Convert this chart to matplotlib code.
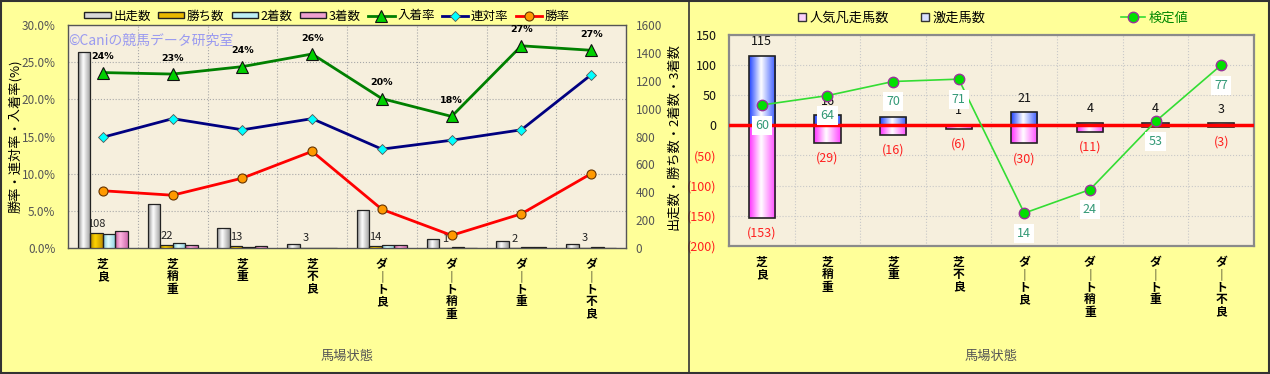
import matplotlib
matplotlib.use("Agg")
import matplotlib.pyplot as plt
import numpy as np
from matplotlib.colors import LinearSegmentedColormap
from matplotlib.lines import Line2D
from matplotlib.patches import Patch, Rectangle
from matplotlib.ticker import FixedLocator, FuncFormatter

plt.rcParams["font.family"] = ["Noto Sans CJK JP", "DejaVu Sans"]

categories = ["芝良", "芝稍重", "芝重", "芝不良", "ダート良", "ダート稍重", "ダート重", "ダート不良"]

# 左グラフ: 頭数 (右軸) と 率 (左軸, %)
runs = [1408, 315, 140, 28, 274, 64, 47, 31]
wins = [108, 22, 13, 3, 14, 1, 2, 3]
seconds = [102, 33, 9, 1, 22, 8, 5, 4]
thirds = [119, 20, 12, 2, 19, 2, 5, 1]
place_rate = [23.6, 23.4, 24.4, 26.1, 20.1, 17.7, 27.2, 26.6]
quinella_rate = [14.9, 17.4, 15.9, 17.4, 13.3, 14.5, 15.9, 23.3]
win_rate = [7.7, 7.1, 9.4, 13.0, 5.2, 1.7, 4.6, 10.0]

# 右グラフ: 激走馬数 / 人気凡走馬数 / 検定値
surge = [115, 16, 14, 1, 21, 4, 4, 3]
flop = [-153, -29, -16, -6, -30, -11, -3, -3]
test_value = [60, 64, 70, 71, 14, 24, 53, 77]

W, H = 1270, 374
BG = "#FFFF99"
PLOT_BG = "#F6EFDD"


def vertical(s):
    return "\n".join("｜" if c == "ー" else c for c in s)


def gradient_bars(ax, bars, stops, zorder=3):
    cmap = LinearSegmentedColormap.from_list("g", stops)
    grad = np.linspace(0, 1, 64).reshape(1, -1)
    for b in bars:
        x0, y0 = b.get_x(), b.get_y()
        w, h = b.get_width(), b.get_height()
        if h == 0:
            continue
        im = ax.imshow(grad, cmap=cmap, extent=[x0, x0 + w, y0, y0 + h],
                       aspect="auto", zorder=zorder, interpolation="bicubic")
        im.set_clip_path(b)


fig = plt.figure(figsize=(W / 100, H / 100), dpi=100, facecolor=BG)

x = np.arange(len(categories))
xt_labels = [vertical(c) for c in categories]

# =========================================================
# 左: 出走数・着順別頭数 + 勝率/連対率/入着率
# =========================================================
ax = fig.add_axes([68 / W, 1 - 248 / H, 558 / W, 223 / H])
ax.set_facecolor(PLOT_BG)
ax2 = ax.twinx()

bw = 0.18
series = [
    (runs, -1.5, [(0, "#8C8C8C"), (0.4, "#FFFFFF"), (1, "#9A9A9A")]),
    (wins, -0.5, [(0, "#B08400"), (0.4, "#FFD400"), (1, "#BF9000")]),
    (seconds, 0.5, [(0, "#7CC4D4"), (0.4, "#E4FFFF"), (1, "#8CCFE0")]),
    (thirds, 1.5, [(0, "#C85C9C"), (0.4, "#FFB6E2"), (1, "#D06CAE")]),
]
for vals, off, stops in series:
    bars = ax.bar(x + off * bw, vals, bw, facecolor="none", edgecolor="#222222",
                  linewidth=0.9, zorder=3.5)
    gradient_bars(ax, bars, stops, zorder=3)

for i, v in enumerate(wins):
    ax.annotate(str(v), (x[i] - 0.5 * bw, v), xytext=(0, 3), textcoords="offset points",
                ha="center", va="bottom", fontsize=8, color="#222222", zorder=2)

ax.set_xlim(-0.5, 7.5)
ax.set_ylim(0, 1600)
ax.set_yticks(np.arange(0, 1601, 200))
ax.yaxis.tick_right()
ax.yaxis.set_label_position("right")
ax.set_ylabel("出走数・勝ち数・2着数・3着数", fontsize=9.5, rotation=90)
ax.yaxis.set_label_coords(1.074, 0.5)
ax.yaxis.set_minor_locator(FixedLocator(np.linspace(0, 1600, 7)))
ax.xaxis.set_minor_locator(FixedLocator(np.arange(0.5, 7, 1)))
ax.grid(which="minor", color="#A8A8A8", linestyle=":", linewidth=0.8)
ax.tick_params(which="both", length=0)
ax.tick_params(axis="y", labelsize=8.5, labelcolor="#555555", pad=7)
ax.set_xticks(x)
ax.set_xticklabels(xt_labels, fontsize=8.5, fontweight="bold", linespacing=0.95, va="top")
ax.tick_params(axis="x", pad=7)
ax.set_xlabel("馬場状態", fontsize=9.5, color="#555555")
ax.xaxis.set_label_coords(0.5, -0.457)
for s in ax.spines.values():
    s.set_color("#555555")
    s.set_linewidth(1.0)

l1, = ax2.plot(x, place_rate, color="#008000", lw=2, marker="^", markersize=8,
               markerfacecolor="#00D000", markeredgecolor="#111111", markeredgewidth=0.8,
               label="入着率")
l2, = ax2.plot(x, quinella_rate, color="#000080", lw=2, marker="D", markersize=5,
               markerfacecolor="#00FFFF", markeredgecolor="#555555", markeredgewidth=0.6,
               label="連対率")
l3, = ax2.plot(x, win_rate, color="#FF0000", lw=2, marker="o", markersize=6.5,
               markerfacecolor="#FF9900", markeredgecolor="#663300", markeredgewidth=0.8,
               label="勝率")
for i, v in enumerate(place_rate):
    ax2.annotate(f"{v:.0f}%", (x[i], v), xytext=(0, 11.5), textcoords="offset points",
                 ha="center", va="center", fontsize=6.8, fontweight="bold",
                 family=["DejaVu Sans"])
ax2.set_ylim(0, 30)
ax2.set_yticks(np.arange(0, 30.1, 5))
ax2.yaxis.set_major_formatter(FuncFormatter(lambda v, p: f"{v:.1f}%"))
ax2.yaxis.tick_left()
ax2.yaxis.set_label_position("left")
ax2.set_ylabel("勝率・連対率・入着率(%)", fontsize=9.5)
ax2.yaxis.set_label_coords(-0.082, 0.5)
ax2.tick_params(length=0)
ax2.tick_params(axis="y", labelsize=8.5, labelcolor="#555555", pad=9)
for s in ax2.spines.values():
    s.set_visible(False)
ax2.text(0.0, 0.93, "©Caniの競馬データ研究室", transform=ax2.transAxes,
         fontsize=10, color="#9A9AF0", ha="left", va="center")

bar_handles = [
    Patch(facecolor="#D8D8D8", edgecolor="#222222", label="出走数"),
    Patch(facecolor="#E8B800", edgecolor="#222222", label="勝ち数"),
    Patch(facecolor="#BDEFF5", edgecolor="#222222", label="2着数"),
    Patch(facecolor="#F0A0D0", edgecolor="#222222", label="3着数"),
]
fig.legend(bar_handles + [l1, l2, l3], [h.get_label() for h in bar_handles] + ["入着率", "連対率", "勝率"],
           loc="center", bbox_to_anchor=(327 / W, 1 - 16 / H), ncol=7, frameon=False,
           fontsize=9, handlelength=2.1, handleheight=0.45, handletextpad=0.2,
           columnspacing=0.6, numpoints=1)

# =========================================================
# 右: 激走馬数 / 人気凡走馬数 + 検定値
# =========================================================
ax3 = fig.add_axes([729 / W, 1 - 246 / H, 525 / W, 211.5 / H])
ax3.set_facecolor(PLOT_BG)

bw2 = 0.4
pos_bars = ax3.bar(x, surge, bw2, facecolor="none", edgecolor="#222222", linewidth=1.2, zorder=3.5)
gradient_bars(ax3, pos_bars, [(0, "#2244FF"), (0.45, "#FFFFFF"), (1, "#3858FF")], zorder=3)
neg_bars = ax3.bar(x, flop, bw2, facecolor="none", edgecolor="#222222", linewidth=1.2, zorder=3.5)
gradient_bars(ax3, neg_bars, [(0, "#FF30FF"), (0.45, "#FFFFFF"), (1, "#FF48FF")], zorder=3)

for i, v in enumerate(surge):
    ax3.annotate(str(v), (x[i], v), xytext=(0, 10), textcoords="offset points",
                 ha="center", va="center", fontsize=9, color="#111111", zorder=4)
for i, v in enumerate(flop):
    ax3.annotate(f"({-v})", (x[i], v), xytext=(0, -11), textcoords="offset points",
                 ha="center", va="center", fontsize=9, color="#FF2020", zorder=4)

ax3.axhline(0, color="#FF0000", linewidth=2.5, zorder=5)
ax3.set_xlim(-0.5, 7.5)
ax3.set_ylim(-200, 150)
yt = np.arange(-200, 151, 50)
ax3.set_yticks(yt)
ax3.yaxis.set_major_formatter(FuncFormatter(lambda v, p: f"({-v:.0f})" if v < 0 else f"{v:.0f}"))
ax3.tick_params(which="both", length=0)
ax3.tick_params(axis="y", labelsize=9, pad=9)
for tick, v in zip(ax3.yaxis.get_major_ticks(), yt):
    tick.label1.set_color("#FF2020" if v < 0 else "#111111")
ax3.xaxis.set_minor_locator(FixedLocator(np.arange(0.5, 7, 1)))
ax3.grid(which="minor", axis="x", color="#C8C8C8", linestyle=":", linewidth=0.8)
ax3.grid(which="major", axis="y", color="#C8C8C8", linestyle=":", linewidth=0.8)
ax3.set_axisbelow(True)
ax3.set_xticks(x)
ax3.set_xticklabels(xt_labels, fontsize=8.5, fontweight="bold", linespacing=0.95, va="top")
ax3.tick_params(axis="x", pad=7)
ax3.set_xlabel("馬場状態", fontsize=9.5, color="#555555")
ax3.xaxis.set_label_coords(0.5, -0.49)
for s in ax3.spines.values():
    s.set_color("#8A8A8A")
    s.set_linewidth(1.6)

ax4 = ax3.twinx()
l4, = ax4.plot(x, test_value, color="#33DD33", lw=1.2, marker="o", markersize=7.5,
               markerfacecolor="#00E000", markeredgecolor="#993399", markeredgewidth=1.0,
               label="検定値")
for i, v in enumerate(test_value):
    ax4.annotate(str(v), (x[i], v), xytext=(0, -14.5), textcoords="offset points",
                 ha="center", va="center", fontsize=9, color="#339977",
                 bbox=dict(boxstyle="square,pad=0.25", facecolor="white", edgecolor="none"))
ax4.set_ylim(0, 90)
ax4.set_yticks([])
for s in ax4.spines.values():
    s.set_visible(False)

fig.legend(
    [Patch(facecolor="#FBD0FB", edgecolor="#333333"), Patch(facecolor="#D8E0FF", edgecolor="#333333")],
    ["人気凡走馬数", "激走馬数"],
    loc="center", bbox_to_anchor=(892 / W, 1 - 18 / H), ncol=2, frameon=False,
    fontsize=9.5, handlelength=0.6, handleheight=0.6, handletextpad=0.3, columnspacing=2.4)
fig.legend([l4], ["検定値"], loc="center", bbox_to_anchor=(1155 / W, 1 - 18 / H),
           frameon=False, fontsize=9.5, handlelength=1.8, handletextpad=0.3,
           labelcolor="#008800", numpoints=1)

# 外枠と仕切り線
fig.patches.append(Rectangle((0.001, 0.002), 0.998, 0.996, transform=fig.transFigure,
                             fill=False, edgecolor="#333333", linewidth=1.5))
fig.lines.append(Line2D([689 / W, 689 / W], [0, 1], transform=fig.transFigure,
                        color="#333333", linewidth=1.2))

fig.savefig("out.png", dpi=100, facecolor=BG)
